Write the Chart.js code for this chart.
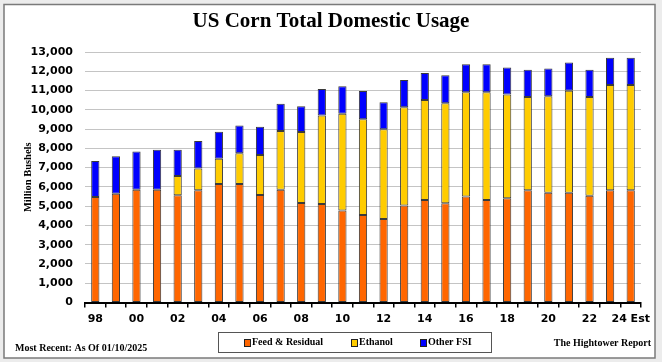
<!DOCTYPE html>
<html>
<head>
<meta charset="utf-8">
<script src="https://cdn.jsdelivr.net/npm/chart.js@4.4.1/dist/chart.umd.min.js"></script>
<style>
  html, body { margin: 0; padding: 0; background: #ececec; }
  #wrap { position: relative; width: 662px; height: 362px; }
</style>
</head>
<body>
<div id="wrap"><canvas id="usageChart" width="662" height="362"></canvas></div>
<script>
// marketing years 1998 .. 2024 (estimate)
const years = ['1998','1999','2000','2001','2002','2003','2004','2005','2006','2007','2008','2009','2010',
  '2011','2012','2013','2014','2015','2016','2017','2018','2019','2020','2021','2022','2023','2024 Est'];
const tickLabels = ['98','','00','','02','','04','','06','','08','','10','','12','','14','','16','','18','','20','','22','','24 Est'];

// million bushels
const feedResidual = [5470,5650,5850,5850,5560,5820,6150,6150,5580,5850,5160,5110,4780,
  4540,4330,5040,5320,5150,5500,5320,5410,5820,5700,5700,5540,5820,5820];
const ethanol = [0,0,0,0,1000,1140,1310,1590,2070,3050,3690,4600,5020,
  4970,4660,5090,5190,5190,5410,5590,5380,4840,5000,5290,5120,5470,5470];
const otherFsi = [1870,1940,1980,2080,1370,1420,1400,1440,1470,1420,1330,1370,1420,
  1470,1400,1420,1400,1450,1450,1450,1410,1420,1450,1460,1420,1410,1410];

const serifBold = 'bold 10px "Liberation Serif", "DejaVu Serif", serif';

// frame, title, legend box and footer notes
const decorations = {
  id: 'decorations',
  beforeDraw(chart) {
    const ctx = chart.ctx;
    ctx.save();
    ctx.fillStyle = '#ffffff';
    ctx.fillRect(4, 4.5, 651, 353.5);
    ctx.strokeStyle = '#7a7a7a';
    ctx.lineWidth = 1.5;
    ctx.strokeRect(4, 4.5, 651, 353.5);
    ctx.restore();
  },
  afterDraw(chart) {
    const ctx = chart.ctx;
    ctx.save();
    ctx.fillStyle = '#000';
    ctx.textBaseline = 'middle';
    ctx.textAlign = 'center';
    ctx.font = 'bold 21px "Liberation Serif", "DejaVu Serif", serif';
    ctx.fillText('US Corn Total Domestic Usage', 331, 22);

    // legend
    ctx.strokeStyle = '#555';
    ctx.lineWidth = 1;
    ctx.strokeRect(218.5, 332.5, 273, 20);
    const legendX = [244, 351, 420];
    ctx.font = serifBold;
    ctx.textAlign = 'left';
    chart.data.datasets.forEach((ds, i) => {
      ctx.fillStyle = ds.backgroundColor;
      ctx.fillRect(legendX[i], 339, 6, 7);
      ctx.strokeStyle = '#222';
      ctx.strokeRect(legendX[i] + 0.5, 339.5, 6, 7);
      ctx.fillStyle = '#000';
      ctx.fillText(ds.label, legendX[i] + 8, 342);
    });

    ctx.fillText('Most Recent: As Of 01/10/2025', 15, 348);
    ctx.textAlign = 'right';
    ctx.fillText('The Hightower Report', 651, 343);
    ctx.restore();
  }
};

new Chart(document.getElementById('usageChart'), {
  type: 'bar',
  data: {
    labels: years,
    datasets: [
      { label: 'Feed & Residual', data: feedResidual, backgroundColor: '#ff6600' },
      { label: 'Ethanol', data: ethanol, backgroundColor: '#ffcc00' },
      { label: 'Other FSI', data: otherFsi, backgroundColor: '#0000ff' }
    ]
  },
  options: {
    responsive: false,
    animation: false,
    devicePixelRatio: 1,
    layout: { padding: { left: 14, right: 21, top: 52, bottom: 31.5 } },
    datasets: {
      bar: {
        barPercentage: 0.4,
        categoryPercentage: 1,
        borderColor: '#3a3a3a',
        borderWidth: 1,
        borderSkipped: false
      }
    },
    scales: {
      x: {
        stacked: true,
        afterFit: (scale) => { scale.height = 28; },
        border: { display: true, color: '#000', width: 2 },
        grid: { offset: true, drawOnChartArea: false, tickLength: 5, color: '#000', lineWidth: 1.5 },
        ticks: {
          autoSkip: false,
          maxRotation: 0,
          padding: 5,
          color: '#000',
          font: { family: '"DejaVu Sans", sans-serif', weight: 'bold', size: 11 },
          callback: (val, i) => tickLabels[i]
        }
      },
      y: {
        stacked: true,
        min: 0,
        max: 13000,
        afterFit: (scale) => { scale.width = 71; },
        border: { display: false },
        grid: { color: '#c4c4c4', lineWidth: 1, drawTicks: false },
        ticks: {
          stepSize: 1000,
          padding: 12,
          color: '#000',
          font: { family: '"DejaVu Sans", sans-serif', weight: 'bold', size: 11 },
          callback: (v) => v.toLocaleString('en-US')
        },
        title: {
          display: true,
          text: 'Million Bushels',
          color: '#000',
          padding: { top: 8, bottom: 0 },
          font: { family: '"Liberation Serif", "DejaVu Serif", serif', weight: 'bold', size: 10.5 }
        }
      }
    },
    plugins: {
      legend: { display: false },
      title: { display: false },
      tooltip: { enabled: false }
    }
  },
  plugins: [decorations]
});
</script>
</body>
</html>
